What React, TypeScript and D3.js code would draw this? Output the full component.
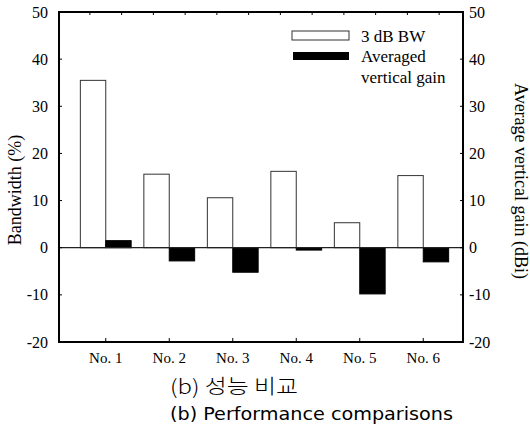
import React from 'react';
import * as d3 from 'd3';

const categories = ['No. 1', 'No. 2', 'No. 3', 'No. 4', 'No. 5', 'No. 6'];
const bandwidth = [35.5, 15.6, 10.6, 16.2, 5.3, 15.3];
const avgGain = [1.5, -2.8, -5.2, -0.5, -9.8, -3.0];
const yTicks = [-20, -10, 0, 10, 20, 30, 40, 50];

const W = 530;
const H = 435;
const plot = { left: 59, right: 463, top: 12, bottom: 342 };
const serif = '"Liberation Serif", "Times New Roman", serif';

export default function App() {
  const x = d3.scaleBand<string>().domain(categories).range([74, 455]).padding(0);
  const y = d3.scaleLinear().domain([-20, 50]).range([plot.bottom, plot.top]);
  const step = x.step();
  const barW = step * 0.4;
  const cx = (c: string) => (x(c) as number) + x.bandwidth() / 2;

  return (
    <svg width={W} height={H} style={{ position: 'absolute', left: 0, top: 0, background: '#fff' }}>
      {/* bars */}
      {categories.map((c, i) => {
        const v = bandwidth[i];
        return (
          <rect key={'bw' + c} x={cx(c) - barW} y={y(Math.max(v, 0))} width={barW}
            height={Math.abs(y(v) - y(0))} fill="#fff" stroke="#333" strokeWidth={1} />
        );
      })}
      {categories.map((c, i) => {
        const v = avgGain[i];
        return (
          <rect key={'g' + c} x={cx(c)} y={y(Math.max(v, 0))} width={barW}
            height={Math.abs(y(v) - y(0))} fill="#000" stroke="#000" strokeWidth={1} />
        );
      })}
      {/* zero line */}
      <line x1={plot.left} x2={plot.right} y1={y(0)} y2={y(0)} stroke="#222" strokeWidth={1.3} />

      {/* frame */}
      <rect x={plot.left} y={plot.top} width={plot.right - plot.left} height={plot.bottom - plot.top}
        fill="none" stroke="#000" strokeWidth={2} />

      {/* top minor ticks */}
      {categories.flatMap((c) => [cx(c) - step / 4, cx(c) + step / 4]).map((tx, i) => (
        <line key={'tt' + i} x1={tx} x2={tx} y1={plot.top} y2={plot.top + 3} stroke="#000" strokeWidth={1} />
      ))}
      {/* bottom ticks + labels */}
      {categories.map((c) => (
        <g key={'bx' + c}>
          <line x1={cx(c)} x2={cx(c)} y1={plot.bottom} y2={plot.bottom - 4} stroke="#000" strokeWidth={1} />
          <text x={cx(c)} y={363} textAnchor="middle" fontFamily={serif} fontSize={15}>{c}</text>
        </g>
      ))}

      {/* left / right ticks */}
      {yTicks.map((t) => (
        <g key={'yt' + t}>
          <line x1={plot.left} x2={plot.left + 3} y1={y(t)} y2={y(t)} stroke="#000" strokeWidth={1} />
          <line x1={plot.right} x2={plot.right - 3} y1={y(t)} y2={y(t)} stroke="#000" strokeWidth={1} />
          <text x={48} y={y(t)} dy="0.35em" textAnchor="end" fontFamily={serif} fontSize={16}>{t}</text>
          <text x={469} y={y(t)} dy="0.35em" textAnchor="start" fontFamily={serif} fontSize={16}>{t}</text>
        </g>
      ))}

      {/* axis titles */}
      <text transform={`translate(21, ${(plot.top + plot.bottom) / 2 + 13}) rotate(-90)`} textAnchor="middle"
        fontFamily={serif} fontSize={18}>Bandwidth (%)</text>
      <text transform={`translate(515, ${(plot.top + plot.bottom) / 2 + 4}) rotate(90)`} textAnchor="middle"
        fontFamily={serif} fontSize={18}>Average vertical gain (dBi)</text>

      {/* legend */}
      <rect x={292} y={31} width={57} height={9} fill="#fff" stroke="#333" strokeWidth={1} />
      <rect x={293} y={52} width={56} height={8} fill="#000" />
      <text x={361} y={42} fontFamily={serif} fontSize={17}>3 dB BW</text>
      <text x={361} y={62} fontFamily={serif} fontSize={17}>Averaged</text>
      <text x={361} y={83} fontFamily={serif} fontSize={17}>vertical gain</text>

      {/* captions */}
      <text x={170} y={394} fontFamily={'"Noto Sans CJK KR", sans-serif'} fontSize={20} fontWeight={300}
        textLength={128} lengthAdjust="spacingAndGlyphs">(b) 성능 비교</text>
      <text x={170} y={420} fontFamily={'"Liberation Sans Narrow", "DejaVu Sans Condensed", sans-serif'} fontSize={17}
        textLength={283} lengthAdjust="spacingAndGlyphs">(b) Performance comparisons</text>
    </svg>
  );
}
